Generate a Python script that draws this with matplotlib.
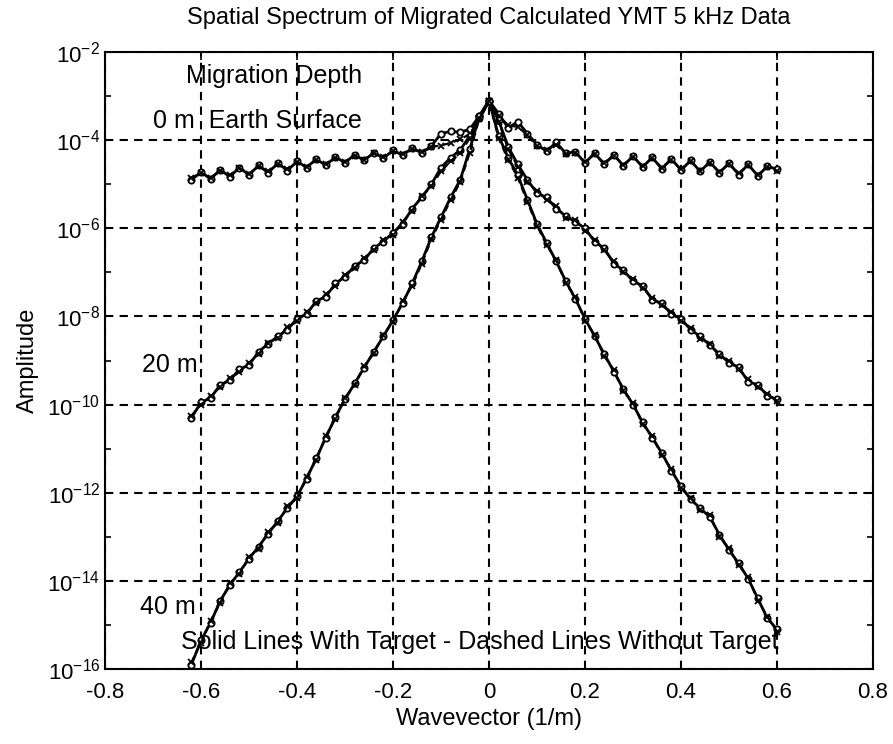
import numpy as np
import matplotlib
matplotlib.use("Agg")
from matplotlib import pyplot as plt

plt.rcParams['font.family'] = ['Liberation Sans', 'DejaVu Sans']
plt.rcParams['mathtext.fontset'] = 'custom'
plt.rcParams['mathtext.rm'] = 'Liberation Sans'
plt.rcParams['mathtext.it'] = 'Liberation Sans'

# wavevector samples (1/m)
k = np.round(np.arange(-0.62, 0.6001, 0.02), 2)

# log10 amplitude
# 0 m (earth surface)
m0_solid = [-4.90, -4.72, -4.88, -4.67, -4.83, -4.62, -4.79, -4.57, -4.74, -4.52,
            -4.69, -4.48, -4.62, -4.43, -4.57, -4.38, -4.51, -4.33, -4.46, -4.28,
            -4.41, -4.23, -4.34, -4.18, -4.29, -4.13, -3.85, -3.80, -3.82, -3.75,
            -3.45, -3.10, -3.40, -3.72, -3.58, -3.85, -4.10, -4.25, -4.05, -4.30,
            -4.26, -4.52, -4.29, -4.55, -4.33, -4.58, -4.36, -4.61, -4.39, -4.65,
            -4.42, -4.68, -4.46, -4.71, -4.49, -4.74, -4.52, -4.78, -4.55, -4.81,
            -4.59, -4.66]
m0_dashed = [-4.86, -4.74, -4.85, -4.69, -4.80, -4.64, -4.76, -4.59, -4.71, -4.54,
             -4.66, -4.50, -4.60, -4.45, -4.55, -4.40, -4.49, -4.35, -4.44, -4.30,
             -4.39, -4.25, -4.32, -4.20, -4.27, -4.15, -4.12, -4.06, -3.98, -3.86,
             -3.50, -3.12, -3.45, -3.66, -3.70, -3.88, -4.14, -4.22, -4.10, -4.32,
             -4.28, -4.49, -4.31, -4.52, -4.35, -4.56, -4.38, -4.59, -4.41, -4.62,
             -4.44, -4.66, -4.48, -4.69, -4.51, -4.72, -4.54, -4.75, -4.57, -4.78,
             -4.61, -4.70]
# 20 m
m20_solid = [-10.30, -9.95, -9.85, -9.55, -9.45, -9.20, -9.10, -8.80, -8.62, -8.45,
             -8.30, -8.05, -7.95, -7.65, -7.55, -7.25, -7.10, -6.85, -6.72, -6.45,
             -6.30, -6.10, -5.90, -5.55, -5.30, -5.00, -4.62, -4.40, -4.22, -3.90,
             -3.50, -3.12, -3.55, -4.15, -4.55, -4.90, -5.20, -5.30, -5.55, -5.72,
             -5.85, -6.00, -6.30, -6.45, -6.80, -6.95, -7.20, -7.30, -7.62, -7.70,
             -7.95, -8.05, -8.30, -8.45, -8.65, -8.85, -9.05, -9.15, -9.48, -9.55,
             -9.80, -9.88]
m20_dashed = [-10.25, -10.00, -9.80, -9.60, -9.40, -9.25, -9.05, -8.85, -8.60, -8.48,
              -8.25, -8.10, -7.90, -7.70, -7.50, -7.30, -7.05, -6.90, -6.68, -6.50,
              -6.26, -6.14, -5.85, -5.60, -5.26, -5.05, -4.70, -4.48, -4.30, -3.95,
              -3.52, -3.14, -3.58, -4.20, -4.60, -4.95, -5.15, -5.35, -5.50, -5.76,
              -5.82, -6.05, -6.26, -6.50, -6.75, -7.00, -7.15, -7.35, -7.58, -7.75,
              -7.90, -8.10, -8.26, -8.50, -8.62, -8.90, -9.00, -9.20, -9.43, -9.60,
              -9.76, -9.92]
# 40 m
m40_solid = [-15.90, -15.35, -14.95, -14.45, -14.10, -13.80, -13.50, -13.22, -12.93, -12.64,
             -12.35, -12.08, -11.68, -11.22, -10.75, -10.28, -9.88, -9.52, -9.16, -8.80,
             -8.45, -8.08, -7.70, -7.25, -6.75, -6.20, -5.75, -5.30, -4.90, -4.20,
             -3.45, -3.10, -3.90, -4.40, -4.80, -5.35, -5.90, -6.33, -6.75, -7.20,
             -7.60, -8.05, -8.45, -8.85, -9.25, -9.65, -10.00, -10.40, -10.75, -11.10,
             -11.50, -11.85, -12.15, -12.35, -12.55, -12.95, -13.30, -13.60, -13.95, -14.40,
             -14.85, -15.10]
m40_dashed = [-15.85, -15.40, -14.90, -14.50, -14.05, -13.85, -13.45, -13.27, -12.88, -12.69,
              -12.30, -12.12, -11.64, -11.26, -10.71, -10.32, -9.84, -9.56, -9.12, -8.84,
              -8.41, -8.12, -7.66, -7.30, -6.80, -6.25, -5.80, -5.36, -4.95, -4.28,
              -3.50, -3.12, -3.95, -4.45, -4.85, -5.40, -5.94, -6.38, -6.72, -7.25,
              -7.56, -8.10, -8.41, -8.90, -9.21, -9.70, -9.96, -10.45, -10.71, -11.15,
              -11.46, -11.90, -12.11, -12.40, -12.51, -13.00, -13.26, -13.65, -13.91, -14.45,
              -14.81, -15.15]

fig = plt.figure(figsize=(8.93, 7.44), dpi=100)
ax = fig.add_axes([0.1176, 0.1008, 0.86, 0.8292])

for sol, das in [(m0_solid, m0_dashed), (m20_solid, m20_dashed), (m40_solid, m40_dashed)]:
    ax.plot(k, 10.0 ** np.array(sol), color='black', lw=2.0, ls='-',
            marker='o', ms=4.5, mfc='white', mew=1.3, zorder=4)
    ax.plot(k, 10.0 ** np.array(das), color='black', lw=1.6, ls=(0, (3, 2)),
            marker='x', ms=4, mew=1.3, zorder=4)

ax.set_yscale('log')
ax.set_xlim(-0.8, 0.8)
ax.set_ylim(1e-16, 1e-2)
ax.set_xticks(np.arange(-0.8, 0.81, 0.2))
ax.set_xticklabels(['-0.8', '-0.6', '-0.4', '-0.2', '0', '0.2', '0.4', '0.6', '0.8'])
yt = [10.0 ** e for e in range(-16, -1, 2)]
ax.set_yticks(yt)
ax.set_yticklabels([r'$10^{%d}$' % e for e in range(-16, -1, 2)])
ax.set_yticks([10.0 ** e for e in range(-15, -2, 2)], minor=True)
ax.yaxis.set_minor_formatter(plt.NullFormatter())
ax.tick_params(which='both', direction='in', top=True, right=True, labelsize=16, width=1.2)
ax.tick_params(axis='x', pad=9)
ax.tick_params(which='major', length=6)
ax.tick_params(which='minor', length=4)
ax.grid(True, which='major', color='black', ls=(0, (4, 3)), lw=1.5)
for s in ax.spines.values():
    s.set_linewidth(1.5)

ax.set_title('Spatial Spectrum of Migrated Calculated YMT 5 kHz Data', fontsize=17, pad=20)
ax.set_xlabel('Wavevector (1/m)', fontsize=17, labelpad=4)
ax.set_ylabel('Amplitude', fontsize=17, labelpad=6)

ax.text(-0.448, 10 ** -2.54, 'Migration Depth', fontsize=18, ha='center', va='center')
ax.text(-0.70, 10 ** -3.57, '0 m  Earth Surface', fontsize=18, ha='left', va='center')
ax.text(-0.723, 10 ** -9.1, '20 m', fontsize=18, ha='left', va='center')
ax.text(-0.727, 10 ** -14.6, '40 m', fontsize=18, ha='left', va='center')
ax.text(-0.02, 10 ** -15.38, 'Solid Lines With Target - Dashed Lines Without Target',
        fontsize=18, ha='center', va='center')

fig.savefig('out.png', dpi=100)
